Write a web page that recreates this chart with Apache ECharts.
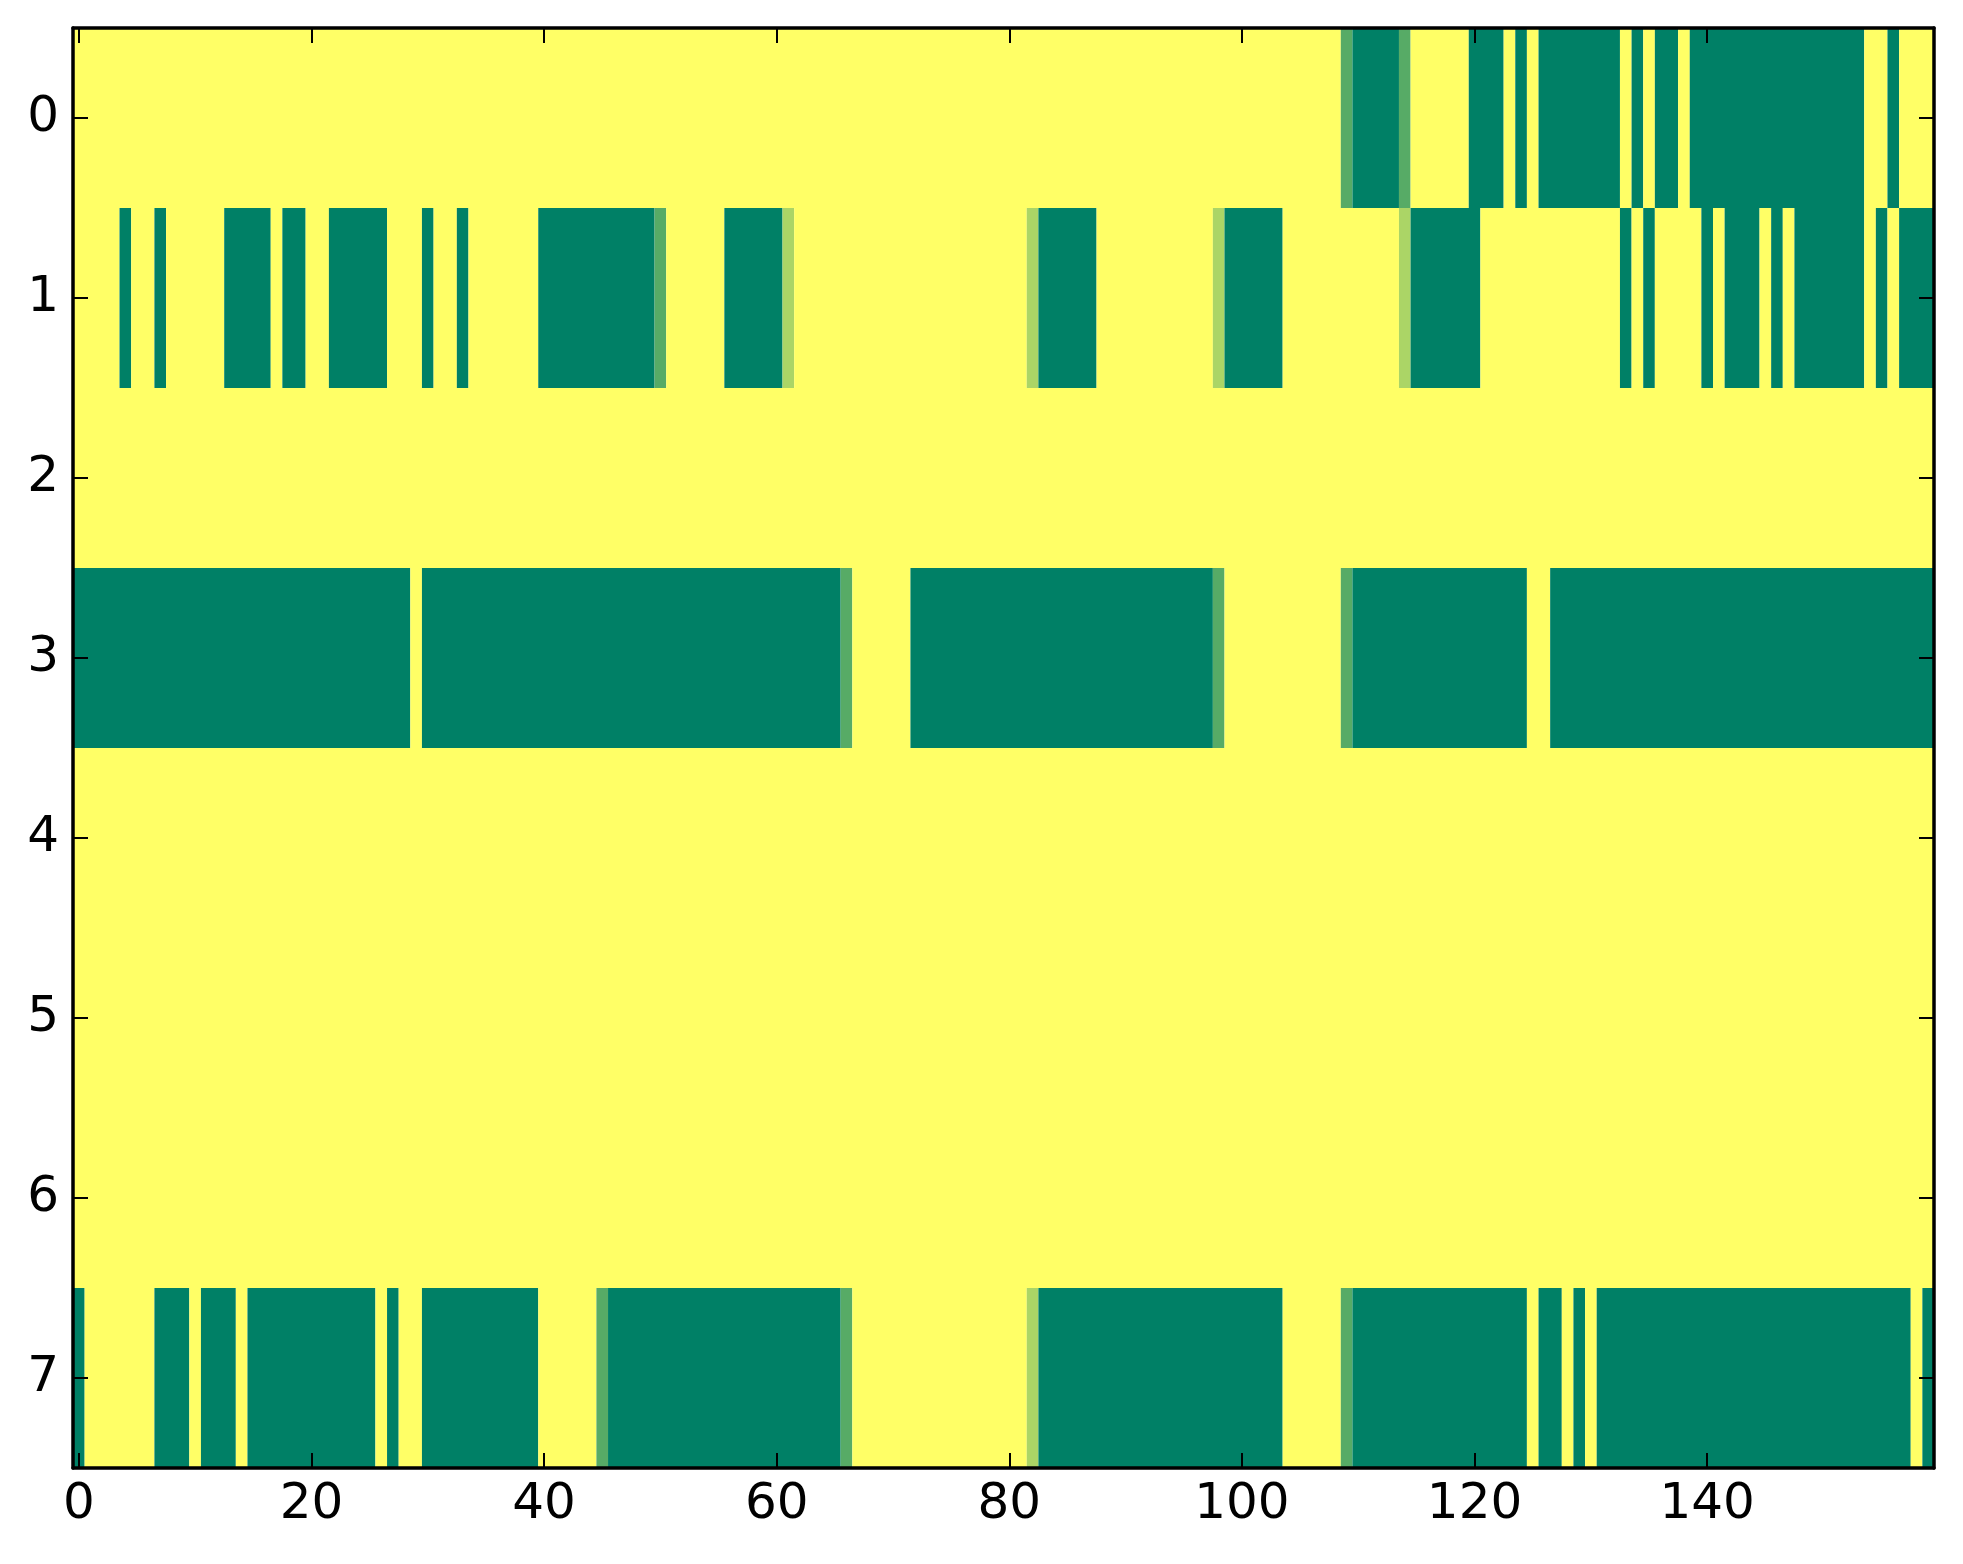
<!DOCTYPE html>
<html><head><meta charset="utf-8">
<script src="https://cdn.jsdelivr.net/npm/echarts@6/dist/echarts.min.js"></script>
<style>html,body{margin:0;padding:0;background:#fff}#c{width:1963px;height:1564px}</style>
</head><body><div id="c"></div>
<script>
// Row labels (y categories, top to bottom)
const rowLabels = ['0','1','2','3','4','5','6','7'];
// Number of columns on the x axis
const nCols = 160;
// x ticks shown every 20 columns
const xTickStep = 20;

// Cell values as runs: [startCol, endCol, value]  (1 = yellow, 0 = green)
const row0 = [[0,108,1],[109,109,0.34],[110,113,0],[114,114,0.34],[115,119,1],[120,122,0],[123,123,1],[124,124,0],[125,125,1],[126,132,0],[133,133,1],[134,134,0],[135,135,1],[136,137,0],[138,138,1],[139,153,0],[154,155,1],[156,156,0],[157,159,1]];
const row1 = [[0,3,1],[4,4,0],[5,6,1],[7,7,0],[8,12,1],[13,16,0],[17,17,1],[18,19,0],[20,21,1],[22,26,0],[27,29,1],[30,30,0],[31,32,1],[33,33,0],[34,39,1],[40,49,0],[50,50,0.34],[51,55,1],[56,60,0],[61,61,0.67],[62,81,1],[82,82,0.67],[83,87,0],[88,97,1],[98,98,0.67],[99,103,0],[104,113,1],[114,114,0.67],[115,120,0],[121,132,1],[133,133,0],[134,134,1],[135,135,0],[136,139,1],[140,140,0],[141,141,1],[142,144,0],[145,145,1],[146,146,0],[147,147,1],[148,153,0],[154,154,1],[155,155,0],[156,156,1],[157,159,0]];
const row2 = [[0,159,1]];
const row3 = [[0,28,0],[29,29,1],[30,65,0],[66,66,0.34],[67,71,1],[72,97,0],[98,98,0.34],[99,108,1],[109,109,0.34],[110,124,0],[125,126,1],[127,159,0]];
const row4 = [[0,159,1]];
const row5 = [[0,159,1]];
const row6 = [[0,159,1]];
const row7 = [[0,0,0],[1,6,1],[7,9,0],[10,10,1],[11,13,0],[14,14,1],[15,25,0],[26,26,1],[27,27,0],[28,29,1],[30,39,0],[40,44,1],[45,45,0.34],[46,65,0],[66,66,0.34],[67,81,1],[82,82,0.67],[83,103,0],[104,108,1],[109,109,0.34],[110,124,0],[125,125,1],[126,127,0],[128,128,1],[129,129,0],[130,130,1],[131,157,0],[158,158,1],[159,159,0]];

const rows = [row0,row1,row2,row3,row4,row5,row6,row7];
const colCats = [];
for (let i = 0; i < nCols; i++) colCats.push(String(i));
// each run becomes one item: [startCol, endCol, row, value]
const runItems = [];
rows.forEach((runs, r) => {
  runs.forEach(([s, e, v]) => runItems.push([s, e, r, v]));
});

const FONT = 'DejaVu Sans';
const lineStyle = { color: '#000', width: 3.5 };
const tickStyle = { color: '#000', width: 2 };
const showEvery = (i) => i % xTickStep === 0;

function renderRun(params, api) {
  const s = api.value(0), e = api.value(1), r = api.value(2);
  const p0 = api.coord([s, r]);
  const p1 = api.coord([e, r]);
  const sz = api.size([1, 1]);
  return {
    type: 'rect',
    shape: { x: p0[0] - sz[0] / 2, y: p0[1] - sz[1] / 2, width: p1[0] - p0[0] + sz[0], height: sz[1] },
    style: { fill: api.visual('color') }
  };
}

const chart = echarts.init(document.getElementById('c'), null, { renderer: 'canvas' });
chart.setOption({
  backgroundColor: '#fff',
  animation: false,
  grid: { left: 73, right: 29, top: 28, bottom: 96, containLabel: false },
  visualMap: { show: false, min: 0, max: 1, dimension: 3, inRange: { color: ['#008066', '#ffff66'] } },
  xAxis: [
    { type: 'category', data: colCats, position: 'bottom', z: 10,
      axisLine: { show: true, lineStyle }, splitLine: { show: false },
      axisTick: { show: true, inside: true, length: 15, alignWithLabel: true, interval: showEvery, lineStyle: tickStyle },
      axisLabel: { interval: showEvery, fontSize: 50, fontFamily: FONT, color: '#000', margin: 12 } },
    { type: 'category', data: colCats, position: 'top', z: 10,
      axisLine: { show: true, lineStyle }, splitLine: { show: false },
      axisTick: { show: true, inside: true, length: 15, alignWithLabel: true, interval: showEvery, lineStyle: tickStyle },
      axisLabel: { show: false } }
  ],
  yAxis: [
    { type: 'category', data: rowLabels, inverse: true, position: 'left', z: 10,
      axisLine: { show: true, lineStyle }, splitLine: { show: false },
      axisTick: { show: true, inside: true, length: 15, alignWithLabel: true, lineStyle: tickStyle },
      axisLabel: { fontSize: 50, fontFamily: FONT, color: '#000', margin: 14, padding: [8, 0, 0, 0] } },
    { type: 'category', data: rowLabels, inverse: true, position: 'right', z: 10,
      axisLine: { show: true, lineStyle }, splitLine: { show: false },
      axisTick: { show: true, inside: true, length: 15, alignWithLabel: true, lineStyle: tickStyle },
      axisLabel: { show: false } }
  ],
  series: [{
    type: 'custom', xAxisIndex: 0, yAxisIndex: 0, data: runItems,
    renderItem: renderRun, encode: { x: [0, 1], y: 2 }, silent: true
  }]
});
</script>
</body></html>
